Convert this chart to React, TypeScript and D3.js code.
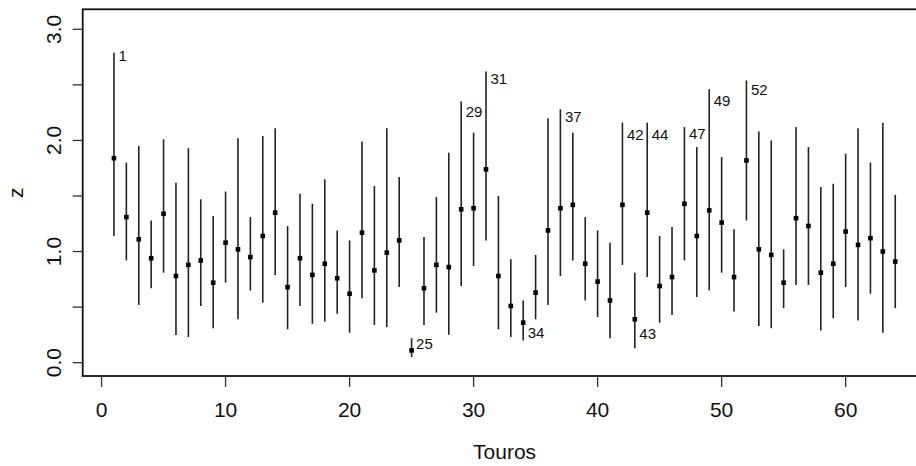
import React, { useEffect, useRef } from "react";
import * as d3 from "d3";

// estimativas por touro (pontos) e limites do intervalo
const touros = d3.range(1, 65);
const estimativa = [
  1.84, 1.31, 1.11, 0.94, 1.34, 0.78, 0.88, 0.92, 0.72, 1.08,
  1.02, 0.95, 1.14, 1.35, 0.68, 0.94, 0.79, 0.89, 0.76, 0.62,
  1.17, 0.83, 0.99, 1.10, 0.11, 0.67, 0.88, 0.86, 1.38, 1.39,
  1.74, 0.78, 0.51, 0.36, 0.63, 1.19, 1.39, 1.42, 0.89, 0.73,
  0.56, 1.42, 0.39, 1.35, 0.69, 0.77, 1.43, 1.14, 1.37, 1.26,
  0.77, 1.82, 1.02, 0.97, 0.72, 1.30, 1.23, 0.81, 0.89, 1.18,
  1.06, 1.12, 1.00, 0.91,
];
const inferior = [
  1.14, 0.92, 0.52, 0.67, 0.81, 0.25, 0.23, 0.51, 0.31, 0.72,
  0.39, 0.65, 0.54, 0.79, 0.30, 0.51, 0.35, 0.37, 0.44, 0.27,
  0.58, 0.34, 0.32, 0.68, 0.05, 0.34, 0.45, 0.25, 0.69, 0.87,
  1.10, 0.30, 0.23, 0.20, 0.39, 0.52, 0.78, 0.92, 0.56, 0.41,
  0.22, 0.88, 0.13, 0.77, 0.36, 0.43, 0.92, 0.59, 0.65, 0.81,
  0.46, 1.28, 0.33, 0.31, 0.49, 0.70, 0.70, 0.29, 0.40, 0.68,
  0.38, 0.62, 0.27, 0.49,
];
const superior = [
  2.79, 1.80, 1.95, 1.28, 2.01, 1.62, 1.93, 1.47, 1.32, 1.54,
  2.02, 1.31, 2.04, 2.11, 1.23, 1.52, 1.43, 1.65, 1.19, 1.10,
  1.99, 1.59, 2.11, 1.67, 0.22, 1.13, 1.49, 1.89, 2.35, 2.07,
  2.62, 1.50, 0.93, 0.56, 0.97, 2.20, 2.28, 2.07, 1.31, 1.19,
  1.08, 2.16, 0.81, 2.16, 1.14, 1.22, 2.12, 1.94, 2.46, 1.85,
  1.20, 2.54, 2.08, 2.00, 1.02, 2.12, 1.94, 1.58, 1.61, 1.88,
  2.11, 1.80, 2.16, 1.51,
];

// touros identificados no grafico
const rotulos = [1, 25, 29, 31, 34, 37, 42, 43, 44, 47, 49, 52];
const rotuloY = [2.76, 0.17, 2.26, 2.56, 0.27, 2.21, 2.05, 0.26, 2.05, 2.06, 2.36, 2.46];

const xTicks = [0, 10, 20, 30, 40, 50, 60];
const yTicks = [0, 0.5, 1, 1.5, 2, 2.5, 3];
const yTickLabels = ["0.0", "", "1.0", "", "2.0", "", "3.0"];

export default function App() {
  const ref = useRef<SVGSVGElement>(null);

  useEffect(() => {
    const svg = d3.select(ref.current);
    svg.selectAll("*").remove();

    const font = "'Liberation Sans', Arial, Helvetica, sans-serif";
    const x = d3.scaleLinear().domain([-1.52, 66.52]).range([82.7, 926.5]);
    const y = d3.scaleLinear().domain([-0.12, 3.18]).range([376, 9.3]);

    // caixa
    svg.append("rect")
      .attr("x", x(-1.52)).attr("y", y(3.18))
      .attr("width", x(66.52) - x(-1.52)).attr("height", y(-0.12) - y(3.18))
      .attr("fill", "none").attr("stroke", "#111").attr("stroke-width", 1.8);

    // eixo x
    const gx = svg.append("g").attr("transform", "translate(0," + y(-0.12) + ")");
    gx.selectAll("line").data(xTicks).enter().append("line")
      .attr("x1", d => x(d)).attr("x2", d => x(d))
      .attr("y1", 0).attr("y2", 11)
      .attr("stroke", "#333").attr("stroke-width", 1.3);
    gx.selectAll("text").data(xTicks).enter().append("text")
      .attr("x", d => x(d)).attr("y", 41)
      .attr("text-anchor", "middle")
      .style("font", "21px " + font).attr("fill", "#111")
      .text(d => d);

    // eixo y
    const gy = svg.append("g").attr("transform", "translate(" + x(-1.52) + ",0)");
    gy.selectAll("line").data(yTicks).enter().append("line")
      .attr("x1", -10).attr("x2", 0)
      .attr("y1", d => y(d)).attr("y2", d => y(d))
      .attr("stroke", "#333").attr("stroke-width", 1.3);
    gy.selectAll("text").data(yTicks).enter().append("text")
      .attr("transform", d => "translate(-21.7," + y(d) + ") rotate(-90)")
      .attr("text-anchor", "middle")
      .style("font", "21px " + font).attr("fill", "#111")
      .text((d, i) => yTickLabels[i]);

    svg.append("text")
      .attr("x", (x(-1.52) + x(66.52)) / 2).attr("y", 459)
      .attr("text-anchor", "middle")
      .style("font", "21px " + font).attr("fill", "#111")
      .text("Touros");
    svg.append("text")
      .attr("transform", "translate(23," + (y(-0.12) + y(3.18)) / 2 + ") rotate(-90)")
      .attr("text-anchor", "middle")
      .style("font", "21px " + font).attr("fill", "#111")
      .text("z");

    // intervalos
    svg.append("g").selectAll("line").data(touros).enter().append("line")
      .attr("x1", d => x(d)).attr("x2", d => x(d))
      .attr("y1", (d, i) => y(inferior[i])).attr("y2", (d, i) => y(superior[i]))
      .attr("stroke", "#222").attr("stroke-width", 1.6);

    // pontos
    svg.append("g").selectAll("rect").data(touros).enter().append("rect")
      .attr("x", d => x(d) - 2.3).attr("y", (d, i) => y(estimativa[i]) - 2.3)
      .attr("width", 4.6).attr("height", 4.6)
      .attr("fill", "#000");

    // rotulos
    svg.append("g").selectAll("text").data(rotulos).enter().append("text")
      .attr("x", d => x(d) + 4.5).attr("y", (d, i) => y(rotuloY[i]))
      .attr("dy", "0.36em")
      .style("font", "15px " + font).attr("fill", "#111")
      .text(d => d);
  }, []);

  return (
    <svg
      ref={ref}
      width={916}
      height={466}
      style={{ position: "absolute", left: 0, top: 0, display: "block", background: "#fff" }}
    ></svg>
  );
}
